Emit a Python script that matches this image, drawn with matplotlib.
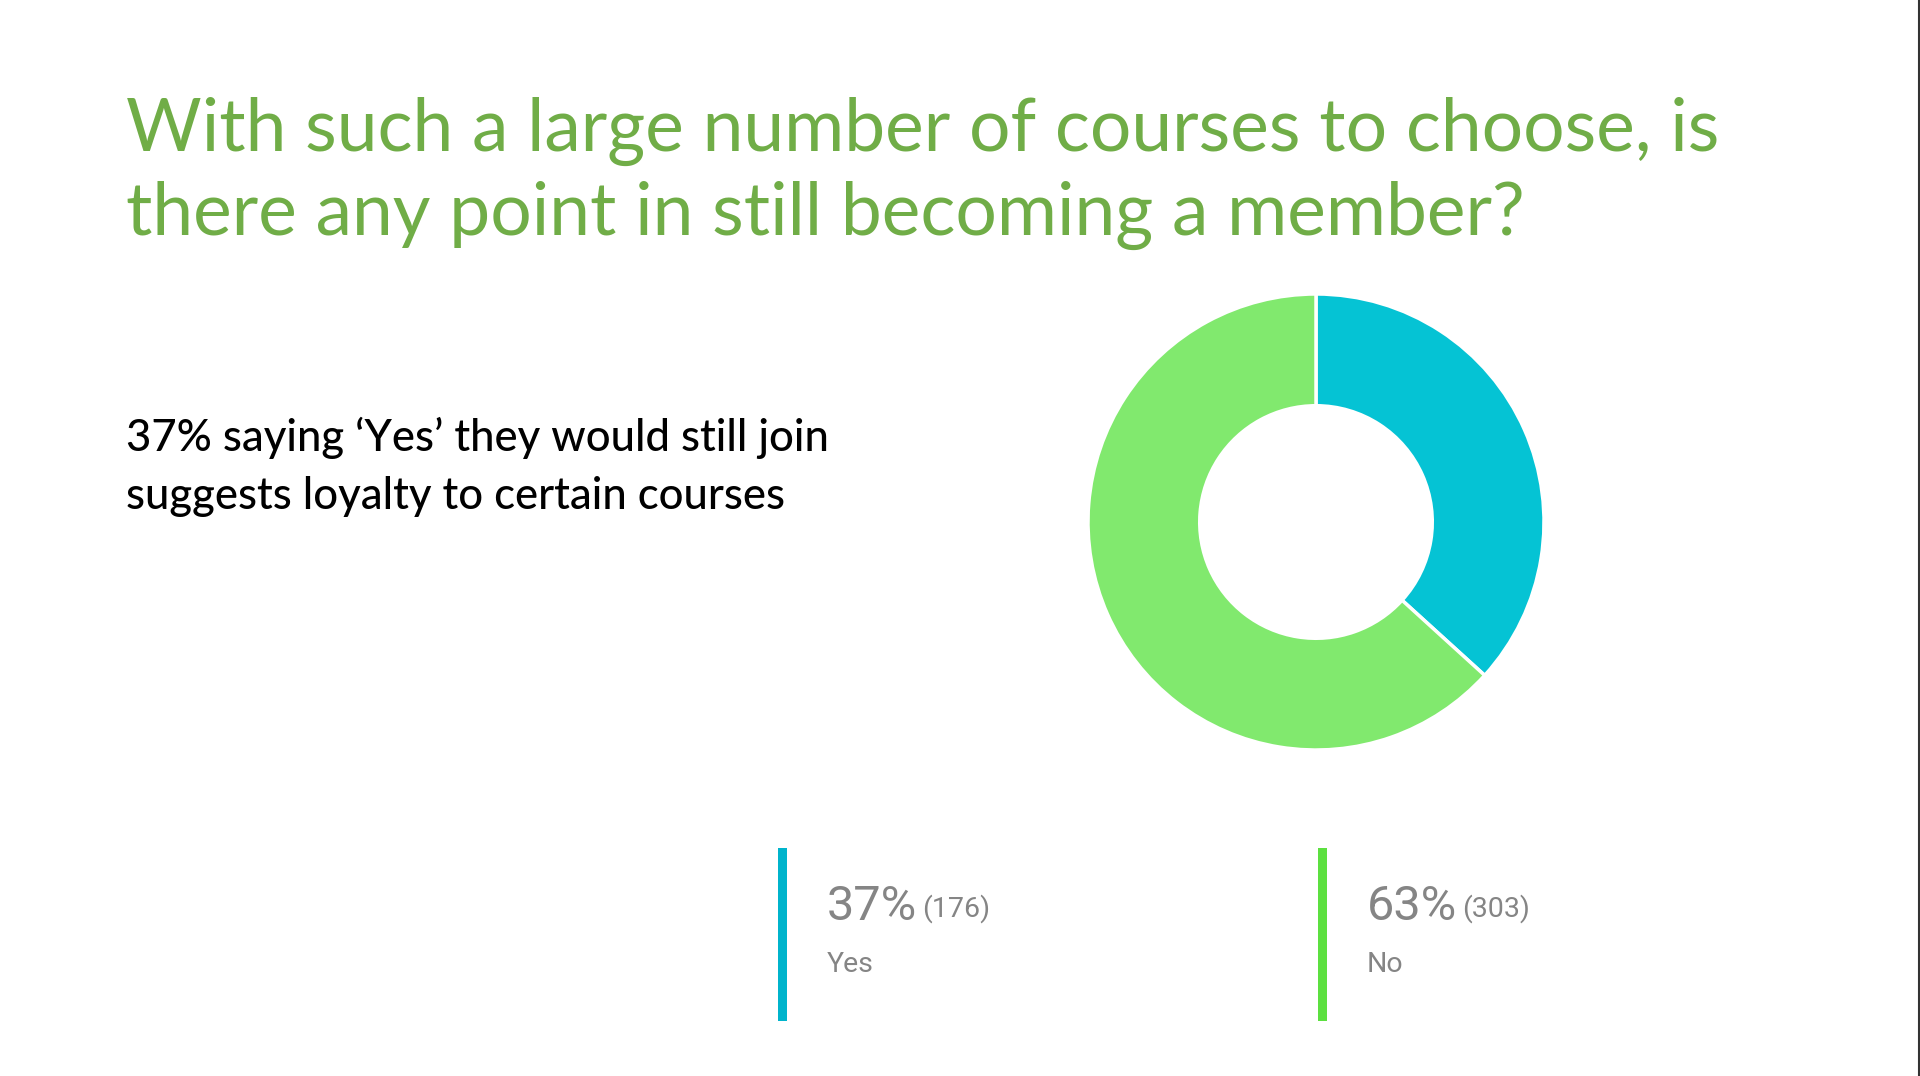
import matplotlib
matplotlib.use("Agg")
import matplotlib.pyplot as plt
from matplotlib.patches import Rectangle
from matplotlib.lines import Line2D

# ---- data ----
categories = ["Yes", "No"]
counts = [176, 303]
percent_labels = ["37%", "63%"]
donut_colors = ["#05C3D4", "#81E96E"]
bar_colors = ["#00B4CC", "#5CE040"]

title_lines = ["With such a large number of courses to choose, is",
               "there any point in still becoming a member?"]
body_lines = ["37% saying \u2018Yes\u2019 they would still join",
              "suggests loyalty to certain courses"]

W, H = 1920, 1076
fig = plt.figure(figsize=(W / 100, H / 100), dpi=100)
fig.patch.set_facecolor("white")


def fx(x):
    return x / W


def fy(y):
    return 1 - y / H


renderer = fig.canvas.get_renderer()


def fit_text(x, y, s, target_w, size_guess, **kw):
    t = fig.text(fx(x), fy(y), s, fontsize=size_guess, va="baseline", ha="left", **kw)
    w = t.get_window_extent(renderer).width
    t.set_fontsize(size_guess * target_w / w)
    return t


title_font = "Lato"
t1 = fit_text(126, 151, title_lines[0], 1593, 58, color="#70AD47", family=title_font)
fs = t1.get_fontsize()
fig.text(fx(126), fy(235), title_lines[1], fontsize=fs, color="#70AD47",
         family=title_font, va="baseline", ha="left")

b1 = fit_text(126, 451, body_lines[0], 702, 28, color="black", family=title_font,
              fontweight="medium")
fig.text(fx(126), fy(509), body_lines[1], fontsize=b1.get_fontsize(), color="black",
         family=title_font, fontweight="medium", va="baseline", ha="left")

# ---- donut ----
cx, cy, r = 1316, 522, 228
ax = fig.add_axes([fx(cx - r), fy(cy + r), 2 * r / W, 2 * r / H])
ax.pie(counts, colors=donut_colors, startangle=90, counterclock=False, radius=1,
       wedgeprops=dict(width=0.49, edgecolor="white", linewidth=2.5))
ax.set_xlim(-1, 1)
ax.set_ylim(-1, 1)
ax.set_aspect("equal")
ax.axis("off")

# ---- legend ----
leg_x = [778, 1318]
gray = "#858585"
for i in range(len(categories)):
    x0 = leg_x[i]
    fig.add_artist(Rectangle((fx(x0), fy(1021)), 9 / W, (1021 - 848) / H,
                             transform=fig.transFigure, color=bar_colors[i], lw=0))
    tp = fig.text(fx(x0 + 49), fy(920), percent_labels[i], fontsize=35, color=gray,
                  family="Roboto", va="baseline", ha="left")
    ext = tp.get_window_extent(renderer)
    fig.text(fx(ext.x1 + 5), fy(917), f"({counts[i]})", fontsize=20.5, color=gray,
             family="Roboto", va="baseline", ha="left")
    fig.text(fx(x0 + 49), fy(972), categories[i], fontsize=20.5, color=gray,
             family="Roboto", va="baseline", ha="left")

# right edge line
fig.add_artist(Line2D([fx(1918.5), fx(1918.5)], [0, 1], transform=fig.transFigure,
                      color="#333333", lw=1.5))

fig.savefig("out.png", dpi=100, facecolor="white")
